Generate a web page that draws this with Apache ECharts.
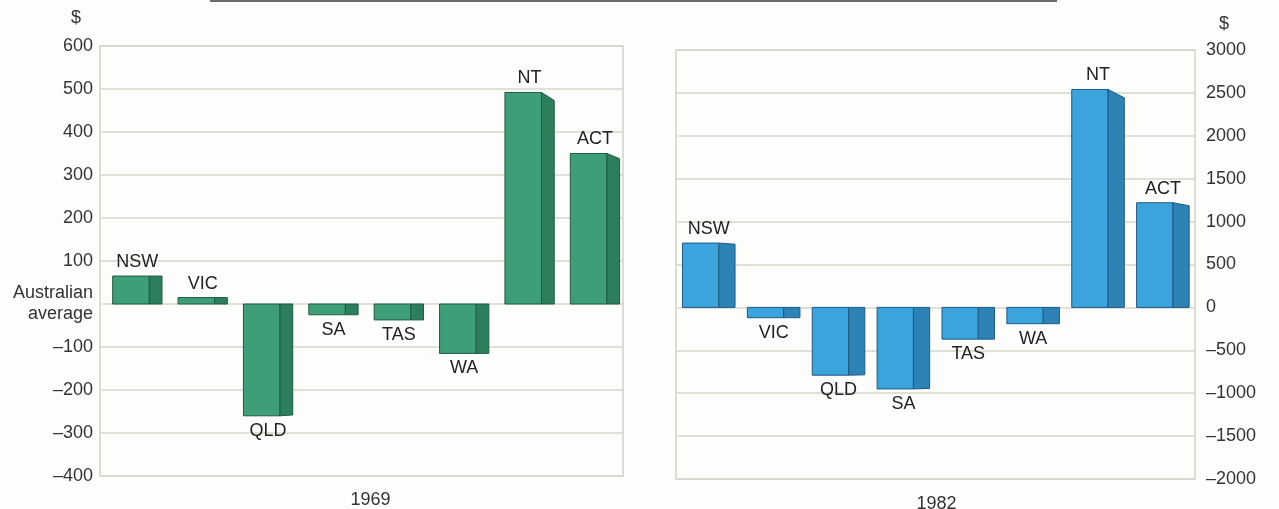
<!DOCTYPE html>
<html><head><meta charset="utf-8">
<style>html,body{margin:0;padding:0;background:#fdfdfb}#c{width:1279px;height:509px}</style>
<script src="https://cdn.jsdelivr.net/npm/echarts@6/dist/echarts.min.js"></script>
</head><body><div id="c"></div>
<script>
const categories = ['NSW','VIC','QLD','SA','TAS','WA','NT','ACT'];
const values1969 = [65, 15, -260, -25, -37, -115, 492, 350];
const values1982 = [750, -120, -790, -950, -370, -190, 2540, 1220];
const yearLabels = ['1969', '1982'];
const unitLabel = '$';
const zeroLabel = 'Australian\naverage';
const left = {min: -400, max: 600, interval: 100};
const right = {min: -2000, max: 3000, interval: 500};

const FONT = '"Liberation Sans", Arial, sans-serif';
const chart = echarts.init(document.getElementById('c'), null, {renderer: 'canvas'});

function fmt(v) { return v < 0 ? '\u2013' + Math.abs(v) : String(v); }

function makeRender(cfg) {
  return function (params, api) {
    const i = api.value(0), v = api.value(1);
    const base = api.coord([i, 0]);
    const tip = api.coord([i, v]);
    const band = api.size([1, 0])[0];
    const x0 = base[0] - band / 2 + band * cfg.off;
    const fw = band * cfg.front, sw = band * cfg.side;
    const y0 = base[1], y1 = tip[1];
    const h = Math.abs(y1 - y0);
    const children = [];
    let side, label;
    if (v >= 0) {
      const s = Math.max(0, (h - 40) * 0.047);
      children.push({type: 'rect', shape: {x: x0, y: y1, width: fw, height: y0 - y1},
        style: {fill: cfg.front_c, stroke: cfg.edge, lineWidth: 1}});
      side = [[x0 + fw, y1], [x0 + fw + sw, y1 + s], [x0 + fw + sw, y0], [x0 + fw, y0]];
      label = y1 - 14;
    } else {
      const s = Math.max(0, (h - 40) * 0.012);
      children.push({type: 'rect', shape: {x: x0, y: y0, width: fw, height: y1 - y0},
        style: {fill: cfg.front_c, stroke: cfg.edge, lineWidth: 1}});
      side = [[x0 + fw, y0], [x0 + fw + sw, y0], [x0 + fw + sw, y1 - s], [x0 + fw, y1]];
      label = y1 + 15;
    }
    children.push({type: 'polygon', shape: {points: side},
      style: {fill: cfg.side_c, stroke: cfg.edge, lineWidth: 1}});
    children.push({type: 'text', style: {text: categories[i], x: x0 + (fw + sw) / 2, y: label,
      align: 'center', verticalAlign: 'middle', fontSize: 18, fontFamily: FONT, fill: '#222'}});
    return {type: 'group', children: children};
  };
}

const gridStyle = {show: true, borderColor: '#d2d2ca', borderWidth: 1.5, backgroundColor: 'transparent',
  containLabel: false, outerBoundsMode: 'none'};
const splitStyle = {show: true, lineStyle: {color: '#d6d6ce', width: 1.5}};

chart.setOption({
  backgroundColor: '#fdfdfb',
  animation: false,
  grid: [
    Object.assign({left: 100, top: 46, width: 523, height: 430}, gridStyle),
    Object.assign({left: 676, top: 50, width: 519, height: 429}, gridStyle)
  ],
  xAxis: [
    {type: 'category', data: categories, gridIndex: 0, axisLine: {show: false}, axisTick: {show: false},
     axisLabel: {show: false}, name: yearLabels[0], nameLocation: 'middle', nameGap: 15,
     nameTextStyle: {fontSize: 18, fontFamily: FONT, color: '#333', padding: [0, 0, 0, 18]}},
    {type: 'category', data: categories, gridIndex: 1, axisLine: {show: false}, axisTick: {show: false},
     axisLabel: {show: false}, name: yearLabels[1], nameLocation: 'middle', nameGap: 16,
     nameTextStyle: {fontSize: 18, fontFamily: FONT, color: '#333', padding: [0, 0, 0, 2]}}
  ],
  yAxis: [
    {type: 'value', gridIndex: 0, min: left.min, max: left.max, interval: left.interval,
     axisLine: {show: false}, axisTick: {show: false}, splitLine: splitStyle,
     axisLabel: {margin: 7, fontSize: 18, fontFamily: FONT, color: '#333', lineHeight: 21,
       formatter: v => v === 0 ? zeroLabel : fmt(v)}},
    {type: 'value', gridIndex: 1, position: 'right', min: right.min, max: right.max, interval: right.interval,
     axisLine: {show: false}, axisTick: {show: false}, splitLine: splitStyle,
     axisLabel: {margin: 11, fontSize: 18, fontFamily: FONT, color: '#333', formatter: fmt}}
  ],
  graphic: [
    {type: 'line', shape: {x1: 210, y1: 1, x2: 1057, y2: 1}, style: {stroke: '#6a6a66', lineWidth: 2}},
    {type: 'text', x: 76, y: 18, style: {text: unitLabel, align: 'center', verticalAlign: 'middle',
      fontSize: 18, fontFamily: FONT, fill: '#333'}},
    {type: 'text', x: 1224, y: 24, style: {text: unitLabel, align: 'center', verticalAlign: 'middle',
      fontSize: 18, fontFamily: FONT, fill: '#333'}}
  ],
  series: [
    {type: 'custom', xAxisIndex: 0, yAxisIndex: 0, clip: false,
     data: values1969.map((v, i) => [i, v]), encode: {x: 0, y: 1},
     renderItem: makeRender({off: 0.194, front: 0.56, side: 0.194,
       front_c: '#3d9e77', side_c: '#2c7f5d', edge: '#1f5c44'})},
    {type: 'custom', xAxisIndex: 1, yAxisIndex: 1, clip: false,
     data: values1982.map((v, i) => [i, v]), encode: {x: 0, y: 1},
     renderItem: makeRender({off: 0.1, front: 0.56, side: 0.25,
       front_c: '#3ca4dc', side_c: '#2d82b6', edge: '#1d5a84'})}
  ]
});
</script>
</body></html>
